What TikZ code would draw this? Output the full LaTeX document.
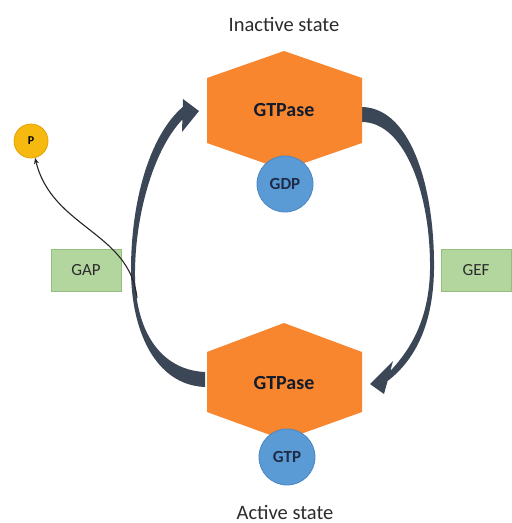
\documentclass[tikz,border=0pt]{standalone}
\usepackage{fontspec}
\setmainfont{Carlito}
\usetikzlibrary{arrows.meta}

\definecolor{hexorange}{HTML}{F7862F}
\definecolor{ballblue}{HTML}{5B9BD5}
\definecolor{balledge}{HTML}{4A86C2}
\definecolor{navy}{HTML}{1E2C48}
\definecolor{boxgreen}{HTML}{B3D59E}
\definecolor{boxedge}{HTML}{93BE7C}
\definecolor{loopgrey}{HTML}{3B4656}
\definecolor{pyellow}{HTML}{F5B90F}
\definecolor{pedge}{HTML}{E6A200}
\definecolor{labelgrey}{HTML}{2B2B2B}

\tikzset{
  hexbody/.style={fill=hexorange},
  hexlabel/.style={font=\fontsize{20}{22}\selectfont\bfseries, text=navy!60!black},
  nucleo/.style={circle, minimum size=56pt, inner sep=0pt, fill=ballblue, draw=balledge, line width=0.8pt,
                 font=\fontsize{17}{19}\selectfont\bfseries, text=navy},
  factor/.style={rectangle, minimum width=70pt, minimum height=42pt, fill=boxgreen, draw=boxedge, line width=0.8pt,
                 font=\fontsize{17}{19}\selectfont, text=labelgrey},
  statelabel/.style={font=\fontsize{20.5}{22}\selectfont, text=labelgrey},
  phosphate/.style={circle, minimum size=34pt, inner sep=0pt, fill=pyellow, draw=pedge, line width=0.8pt,
                    font=\fontsize{12}{13}\selectfont\bfseries, text=black},
  loop/.style={fill=loopgrey},
  release/.style={draw=black!85, line width=1.1pt, -{Stealth[length=6pt,width=5pt]}}
}

\begin{document}
\begin{tikzpicture}[x=1pt,y=-1pt]
\useasboundingbox (0,0) rectangle (512,523);

% the two curved cycle arrows (behind the hexagons)
\fill[loop] (362,107) .. controls (412,108) and (435,190) .. (434,270)
  .. controls (433,325) and (415,360) .. (387.6,381)
  -- (384,394) -- (370,384) -- (393,361) -- (390.3,371)
  .. controls (410,350) and (429,320) .. (430,270)
  .. controls (431,195) and (405,122) .. (362,122) -- cycle;

\fill[loop] (205,387) .. controls (155,385) and (131,330) .. (131,270)
  .. controls (131,200) and (150,135) .. (182.75,107)
  -- (183,99) -- (199,111) -- (182,132) -- (182.4,119.5)
  .. controls (155,148) and (136,210) .. (135,270)
  .. controls (134,330) and (160,370) .. (205,372) -- cycle;

% hexagons
\fill[hexbody] (284,51) -- (362,78) -- (362,143) -- (284,170) -- (207,143) -- (207,78) -- cycle;
\fill[hexbody] (284,323) -- (362,352) -- (362,412) -- (284,440) -- (207,412) -- (207,352) -- cycle;
\node[hexlabel] (gtpaseI) at (284,110) {GTPase};
\node[hexlabel] (gtpaseA) at (284,383) {GTPase};

% bound nucleotides
\node[nucleo] (gdp) at (285,184) {GDP};
\node[nucleo] (gtp) at (287,457) {GTP};

% state labels
\node[statelabel] (inactive) at (284,24) {Inactive state};
\node[statelabel] (active) at (285,512) {Active state};

% regulators
\node[factor] (gap) at (86,270) {GAP};
\node[factor] (gef) at (476,270) {GEF};

% released phosphate
\node[phosphate] (pi) at (31,141) {P};
\coordinate (gapstart) at (137,298);
\draw[release] (gapstart) .. controls (130,232) and (52,228) .. (pi);
\end{tikzpicture}
\end{document}
